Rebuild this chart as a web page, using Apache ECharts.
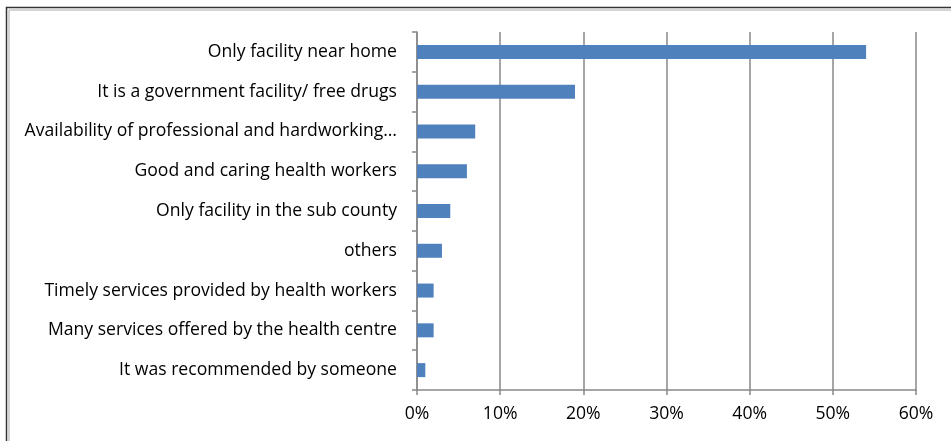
<!DOCTYPE html>
<html><head><meta charset="utf-8">
<script src="https://cdn.jsdelivr.net/npm/echarts@6/dist/echarts.min.js"></script>
<style>html,body{margin:0;padding:0;background:#fff}#c{width:951px;height:441px}</style>
</head><body><div id="c"></div>
<script>
const categories = [
  "Only facility near home",
  "It is a government facility/ free drugs",
  "Availability of professional and hardworking…",
  "Good and caring health workers",
  "Only facility in the sub county",
  "others",
  "Timely services provided by health workers",
  "Many services offered by the health centre",
  "It was recommended by someone"
];
const values = [54, 19, 7, 6, 4, 3, 2, 2, 1];
const xTicks = [0, 10, 20, 30, 40, 50, 60];

const chart = echarts.init(document.getElementById('c'), null, {renderer: 'canvas'});
chart.setOption({
  animation: false,
  backgroundColor: '#fff',
  graphic: [
    {type: 'rect', shape: {x: 6.5, y: 7.5, width: 960, height: 450}, style: {fill: 'none', stroke: '#333', lineWidth: 1.5}, silent: true},
    {type: 'rect', shape: {x: 9, y: 10, width: 960, height: 450}, style: {fill: 'none', stroke: '#aaa', lineWidth: 1}, silent: true}
  ],
  grid: {left: 417, right: 35, top: 32, bottom: 51, containLabel: false},
  xAxis: {
    type: 'value', min: 0, max: 60, interval: 10,
    axisLine: {show: true, lineStyle: {color: '#888', width: 1.5}},
    axisTick: {show: true, length: 5, lineStyle: {color: '#888', width: 1.5}},
    splitLine: {show: true, lineStyle: {color: '#888', width: 1.5}},
    axisLabel: {formatter: v => xTicks.includes(v) ? v + '%' : '', color: '#000', fontSize: 17.6, fontFamily: 'Open Sans', margin: 15}
  },
  yAxis: {
    type: 'category', data: categories, inverse: true,
    axisLine: {show: true, lineStyle: {color: '#888', width: 1.5}},
    axisTick: {show: true, length: 5, lineStyle: {color: '#888', width: 1.5}},
    axisLabel: {color: '#000', fontSize: 17.6, fontFamily: 'Open Sans', margin: 20}
  },
  series: [{
    type: 'bar', data: values, barWidth: 14,
    itemStyle: {color: '#4f81bd'}
  }]
});
</script></body></html>
